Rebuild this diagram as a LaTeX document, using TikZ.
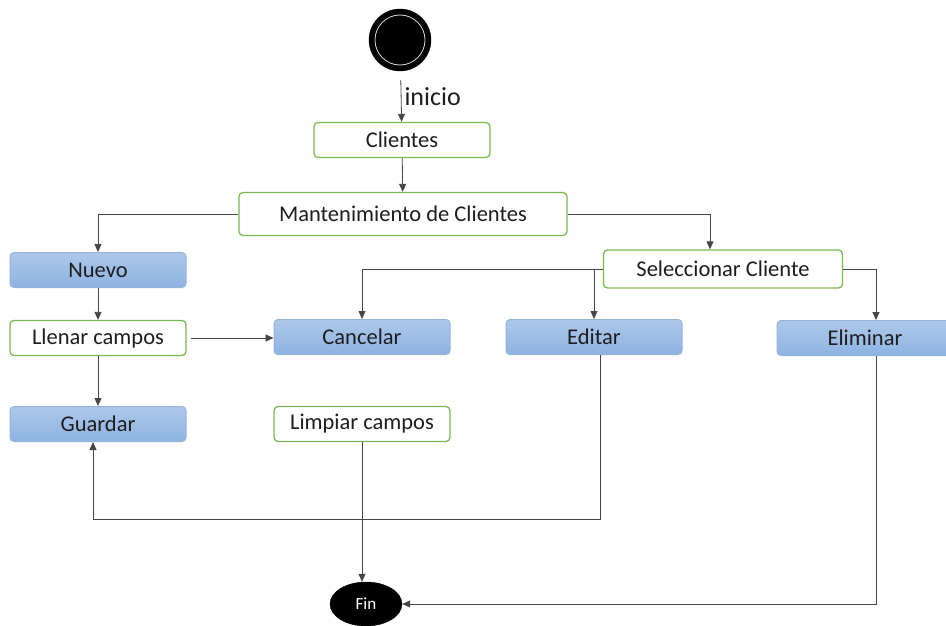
\documentclass[tikz,border=0pt]{standalone}
\usepackage{fontspec}
\setmainfont{Carlito}
\usetikzlibrary{arrows.meta,shapes.geometric}

\definecolor{boxgreen}{RGB}{122,184,82}
\definecolor{bluetop}{RGB}{174,199,233}
\definecolor{bluebot}{RGB}{141,179,226}
\definecolor{blueline}{RGB}{150,180,216}
\definecolor{linegray}{RGB}{70,70,70}
\definecolor{textgray}{RGB}{30,30,30}

\tikzstyle{state}=[rectangle, rounded corners=4pt, draw=boxgreen, line width=1.3pt, fill=white, text=textgray, minimum width=176, minimum height=35, font=\fontsize{22.5}{26}\selectfont]
\tikzstyle{action}=[rectangle, rounded corners=4pt, draw=blueline, line width=1pt, top color=bluetop, bottom color=bluebot, text=textgray, minimum width=176, minimum height=35, font=\fontsize{22.5}{26}\selectfont]
\tikzstyle{startnode}=[circle, fill=black, draw=black, minimum size=62, inner sep=0pt]
\tikzstyle{endnode}=[ellipse, fill=black, draw=black, text=white, minimum width=72, minimum height=44, inner sep=0pt, font=\fontsize{17}{19}\selectfont]
\tikzstyle{flow}=[draw=linegray, line width=0.8pt, -{Triangle[length=8pt,width=7pt]}]

\begin{document}
\begin{tikzpicture}[x=1pt,y=-1pt]
\useasboundingbox (0,0) rectangle (946,626);

\node[startnode] (ini) at (400,40) {};
\draw[white!85!black, line width=0.8pt] (ini.center) circle (25);

\node[state] (cli) at (402,140) {Clientes};
\node[state, minimum width=328, minimum height=43] (mant) at (403,214) {Mantenimiento de Clientes};

\node[action] (nuevo) at (98,270) {Nuevo};
\node[state] (llenar) at (98,338) {Llenar campos};
\node[action] (guardar) at (98,424) {Guardar};

\node[action] (cancelar) at (362,337) {Cancelar};
\node[state] (limpiar) at (362,424) {Limpiar campos};

\node[state, minimum width=239, minimum height=38] (selec) at (723,269) {Seleccionar Cliente};
\node[action] (editar) at (594,337) {Editar};
\node[action] (eliminar) at (865,338) {Eliminar};

\node[endnode] (fin) at (366,604) {Fin};

\draw[flow, shorten <=9pt] (ini) -- node[right, inner sep=3pt, text=textgray, font=\fontsize{26}{30}\selectfont] {inicio} (cli);
\draw[flow] (cli) -- (mant);
\draw[flow] (mant.west) -| (nuevo.north);
\draw[flow] (mant.east) -| ([xshift=-13pt]selec.north);
\draw[flow] (nuevo) -- (llenar);
\draw[flow] (llenar) -- (guardar);
\draw[flow, shorten <=4pt] (llenar.east) -- (llenar.east -| cancelar.west);
\draw[flow] (selec.west) -| (cancelar.north);
\draw[flow] (selec.west -| editar.north) -- (editar.north);
\draw[flow] (selec.east) -| ([xshift=11pt]eliminar.north);
\draw[flow] ([xshift=6pt]editar.south) -- ++(0,164) -| ([xshift=-5pt]guardar.south);
\draw[flow] (limpiar.south) -- (limpiar.south |- fin.north);
\draw[flow] ([xshift=11pt]eliminar.south) |- (fin.east);
\end{tikzpicture}
\end{document}
